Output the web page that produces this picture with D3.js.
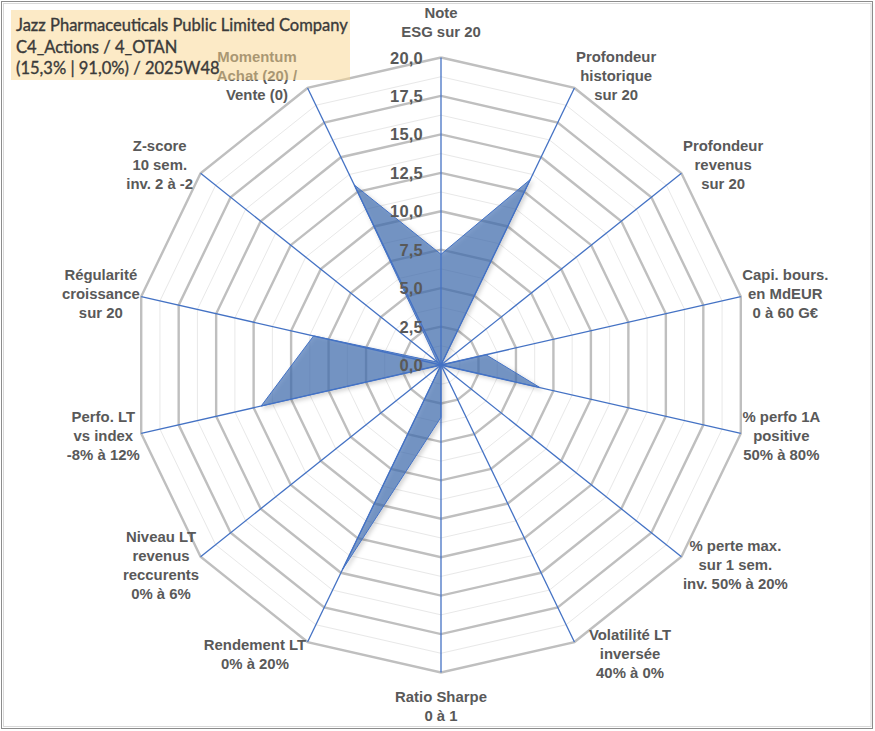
<!DOCTYPE html>
<html>
<head>
<meta charset="utf-8">
<script src="https://cdn.jsdelivr.net/npm/d3@7"></script>
<style>
  html, body { margin: 0; padding: 0; background: #fff; }
  svg { display: block; }
</style>
</head>
<body>
<svg id="chart" width="875" height="731"></svg>
<script>
// ---------------- DATA ----------------
const titleLines = [
  "Jazz Pharmaceuticals Public Limited Company",
  "C4_Actions / 4_OTAN",
  "(15,3% | 91,0%) / 2025W48"
];
const categories = [
  ["Note", "ESG sur 20"],
  ["Profondeur", "historique", "sur 20"],
  ["Profondeur", "revenus", "sur 20"],
  ["Capi. bours.", "en MdEUR", "0 à 60 G€"],
  ["% perfo 1A", "positive", "50% à 80%"],
  ["% perte max.", "sur 1 sem.", "inv. 50% à 20%"],
  ["Volatilité LT", "inversée", "40% à 0%"],
  ["Ratio Sharpe", "0 à 1"],
  ["Rendement LT", "0% à 20%"],
  ["Niveau LT", "revenus", "reccurents", "0% à 6%"],
  ["Perfo. LT", "vs index", "-8% à 12%"],
  ["Régularité", "croissance", "sur 20"],
  ["Z-score", "10 sem.", "inv. 2 à -2"],
  ["Momentum", "Achat (20) /", "Vente (0)"]
];
const values = [7.2, 13.4, 0, 3.0, 6.6, 0, 0, 3.4, 14.8, 0, 12.0, 8.5, 0.3, 13.0];
const ticks = [0, 2.5, 5, 7.5, 10, 12.5, 15, 17.5, 20];
const tickLabels = ["0,0", "2,5", "5,0", "7,5", "10,0", "12,5", "15,0", "17,5", "20,0"];
const minorTicks = [1.25, 3.75, 6.25, 8.75, 11.25, 13.75, 16.25, 18.75];

// ---------------- LAYOUT ----------------
const W = 875, H = 731;
const cx = 441, cy = 365, R = 307.5;
const labelNudge = [0, 0, 0, 0, 0, 0, 13, 0, 0, 0, 0, 0, -6, -9];
const LINE_H = 19;

const svg = d3.select("#chart");
const defs = svg.append("defs");
const f = defs.append("filter").attr("id", "shadow")
  .attr("x", "-20%").attr("y", "-20%").attr("width", "140%").attr("height", "140%");
f.append("feDropShadow").attr("dx", 2).attr("dy", 2).attr("stdDeviation", 2)
  .attr("flood-color", "#000").attr("flood-opacity", 0.25);

// frame
svg.append("rect").attr("x", 1.5).attr("y", 1.5).attr("width", W - 4).attr("height", H - 4)
  .attr("fill", "#fff").attr("stroke", "#8c8c8c").attr("stroke-width", 1);
svg.append("rect").attr("x", 3.5).attr("y", 3.5).attr("width", W - 7.5).attr("height", H - 8)
  .attr("fill", "none").attr("stroke", "#d9d9d9").attr("stroke-width", 1);

const n = categories.length;
const r = d3.scaleLinear().domain([0, 20]).range([0, R]);
const ang = d3.scaleLinear().domain([0, n]).range([0, 2 * Math.PI]);
const pt = (i, v) => [cx + r(v) * Math.sin(ang(i)), cy - r(v) * Math.cos(ang(i))];

const g = svg.append("g");
const ringLine = v => d3.range(n + 1).map(i => pt(i % n, v));
const line = d3.line();

// minor rings
g.selectAll("path.minor").data(minorTicks).join("path")
  .attr("class", "minor")
  .attr("d", v => line(ringLine(v)))
  .attr("fill", "none").attr("stroke", "#e8e8e8").attr("stroke-width", 1);

// major rings
g.selectAll("path.major").data(ticks.filter(t => t > 0)).join("path")
  .attr("class", "major")
  .attr("d", v => line(ringLine(v)))
  .attr("fill", "none").attr("stroke", "#bfbfbf").attr("stroke-width", 2.4)
  .attr("stroke-linejoin", "miter");

// data polygon
const poly = values.map((v, i) => pt(i, v));
g.append("path")
  .attr("d", line(poly.concat([poly[0]])))
  .attr("fill", "#3d6cb0").attr("fill-opacity", 0.66)
  .attr("stroke", "#4472c4").attr("stroke-width", 1)
  .attr("filter", "url(#shadow)");

// axes (spokes)
g.selectAll("line.spoke").data(d3.range(n)).join("line")
  .attr("class", "spoke")
  .attr("x1", cx).attr("y1", cy)
  .attr("x2", i => pt(i, 20)[0]).attr("y2", i => pt(i, 20)[1])
  .attr("stroke", "#4472c4").attr("stroke-width", 1.3);

// tick labels
g.selectAll("text.tick").data(ticks).join("text")
  .attr("class", "tick")
  .attr("x", cx - 18)
  .attr("y", t => cy - r(t) + 6)
  .attr("text-anchor", "end")
  .attr("font-family", "'Liberation Sans', Arial, sans-serif")
  .attr("font-weight", "bold")
  .attr("font-size", 16.5)
  .attr("letter-spacing", 0.2)
  .attr("fill", "#595959")
  .text((t, i) => tickLabels[i]);

// category labels
categories.forEach((lines, i) => {
  const grp = svg.append("g");
  const txt = grp.append("text")
    .attr("text-anchor", "middle")
    .attr("font-family", "'Liberation Sans', Arial, sans-serif")
    .attr("font-weight", "bold")
    .attr("font-size", 14.9)
    .attr("fill", "#595959");
  const hh = lines.length * LINE_H;
  lines.forEach((l, k) => {
    txt.append("tspan").attr("x", 0)
      .attr("y", -hh / 2 + LINE_H * (k + 0.5) + 5)
      .text(l);
  });
  const w = txt.node().getBBox().width;
  const a = ang(i);
  const [vx, vy] = pt(i, 20);
  let bx, by;
  const s = Math.sin(a), c = Math.cos(a);
  if (Math.abs(s) < 0.01) {
    bx = vx;
    by = c > 0 ? vy - hh / 2 - 16 : vy + hh / 2 + 14.5;
  } else {
    bx = vx + Math.sign(s) * (w / 2 + 1.5) + labelNudge[i];
    by = vy - 13.3 * c;
  }
  grp.attr("transform", `translate(${bx},${by})`);
});

// title box (semi-transparent, on top)
svg.append("rect")
  .attr("x", 11).attr("y", 10).attr("width", 339).attr("height", 70)
  .attr("fill", "#f9d58e").attr("fill-opacity", 0.5);
const tt = svg.append("g");
titleLines.forEach((l, k) => {
  tt.append("text")
    .attr("x", 16).attr("y", 31 + k * 21.5)
    .attr("font-family", "Lato, 'Open Sans', sans-serif")
    .attr("font-size", 16)
    .attr("fill", "#3a3a3a")
    .attr("stroke", "#3a3a3a")
    .attr("stroke-width", 0.35)
    .text(l);
});
// fit title width to reference
const t0 = tt.select("text").node();
const tw = t0.getComputedTextLength();
const fs = 16 * 332 / tw;
tt.selectAll("text").attr("font-size", fs);
</script>
</body>
</html>
